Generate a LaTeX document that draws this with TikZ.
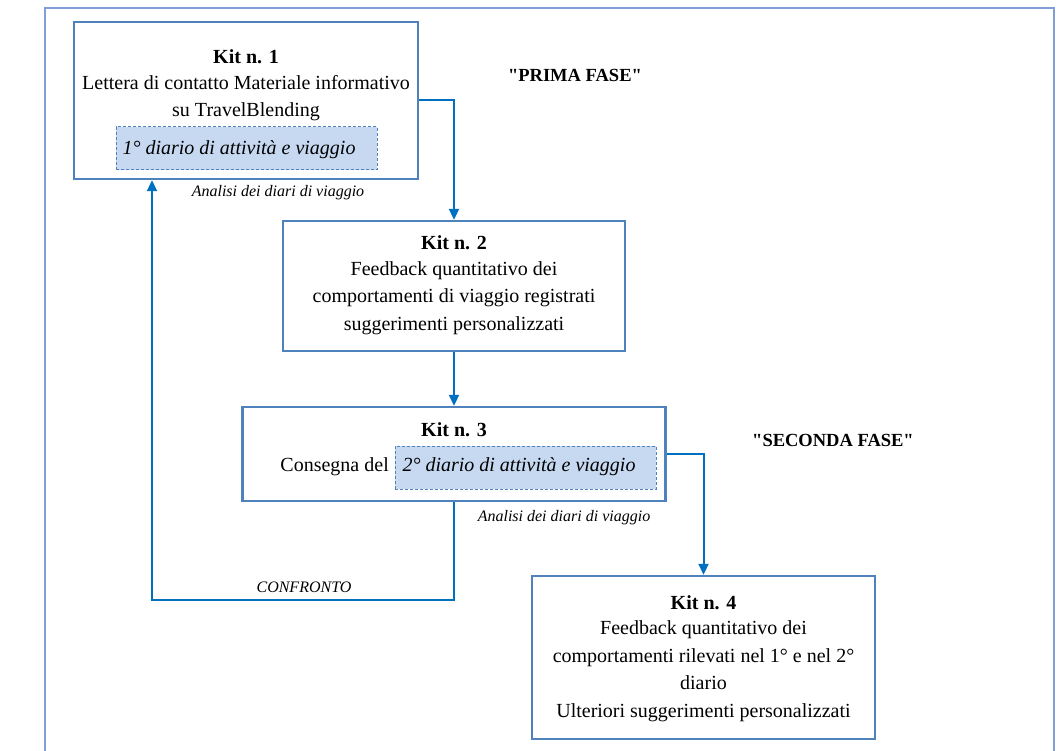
\documentclass[tikz,border=0pt]{standalone}
\usepackage{fontspec}
\setmainfont{Liberation Serif}
\usetikzlibrary{arrows.meta}
\definecolor{boxline}{HTML}{4F81BD}
\definecolor{arrowblue}{HTML}{0070C0}
\definecolor{framecol}{HTML}{7F9FD6}
\definecolor{diaryfill}{HTML}{C6D9F1}
\tikzset{
  kitbox/.style={draw=boxline, line width=2.4pt, rectangle, inner sep=0pt},
  diarybox/.style={draw=boxline, dash pattern=on 3pt off 2pt, line width=1pt, fill=diaryfill, rectangle, inner sep=0pt},
  body/.style={font=\fontsize{20}{27.5}\selectfont, inner sep=0pt, align=center},
  title/.style={font=\fontsize{20}{27.5}\selectfont\bfseries, inner sep=0pt},
  diarytext/.style={font=\fontsize{20}{22}\selectfont\itshape, inner sep=0pt},
  note/.style={font=\fontsize{16}{18}\selectfont\itshape, inner sep=0pt},
  phase/.style={font=\fontsize{18.5}{20}\selectfont\bfseries, inner sep=0pt},
  flow/.style={draw=arrowblue, line width=2pt, -{Triangle[width=10pt,length=11pt]}}
}
\begin{document}
\begin{tikzpicture}[x=1pt, y=-1pt]
\useasboundingbox (0,0) rectangle (1057,751);
\fill[white] (0,0) rectangle (1057,751);
% outer frame
\draw[framecol, line width=2.2pt] (45,800) -- (45,8) -- (1054,8) -- (1054,800);

% Kit 1
\node[kitbox, minimum width=344pt, minimum height=157pt] (k1) at (246,100.5) {};
\node[title] (t1) at (246,57) {Kit n. 1};
\node[body] (b1) at (246,98) {Lettera di contatto Materiale informativo\\su TravelBlending};
\node[diarybox, minimum width=261pt, minimum height=43pt] (d1) at (246.5,148.5) {};
\node[diarytext] (dt1) at (239,150) {1° diario di attività e viaggio};

% Kit 2
\node[kitbox, minimum width=342pt, minimum height=130pt] (k2) at (454,286) {};
\node[title] (t2) at (454,243) {Kit n. 2};
\node[body] (b2) at (454,298) {Feedback quantitativo dei\\comportamenti di viaggio registrati\\suggerimenti personalizzati};

% Kit 3
\node[kitbox, minimum width=423pt, minimum height=94pt] (k3) at (454,454) {};
\node[title] (t3) at (454,430) {Kit n. 3};
\node[body, anchor=east] (b3) at (389,467) {Consegna del};
\node[diarybox, minimum width=261pt, minimum height=43pt] (d3) at (525.5,467.5) {};
\node[diarytext] (dt3) at (519,467) {2° diario di attività e viaggio};

% Kit 4
\node[kitbox, minimum width=343pt, minimum height=163pt] (k4) at (703.5,657.5) {};
\node[title] (t4) at (703.5,603) {Kit n. 4};
\node[body] (b4) at (703.5,671) {Feedback quantitativo dei\\comportamenti rilevati nel 1° e nel 2°\\diario\\Ulteriori suggerimenti personalizzati};

% phase labels
\node[phase] (p1) at (575,75) {\textquotedbl PRIMA FASE\textquotedbl};
\node[phase] (p2) at (833,440) {\textquotedbl SECONDA FASE\textquotedbl};

% notes
\node[note] (n1) at (278,193) {Analisi dei diari di viaggio};
\node[note] (n2) at (564,518) {Analisi dei diari di viaggio};
\node[note] (n3) at (304,587) {CONFRONTO};

% connectors
\coordinate (cf) at (152,600);
\draw[flow] (k1.east) -| (k2.north);
\draw[flow] (k2.south) -- (k3.north);
\draw[flow] (k3.east) -| (k4.north);
\draw[flow] (k3.south) |- (cf) -- (cf |- k1.south);
\end{tikzpicture}
\end{document}
